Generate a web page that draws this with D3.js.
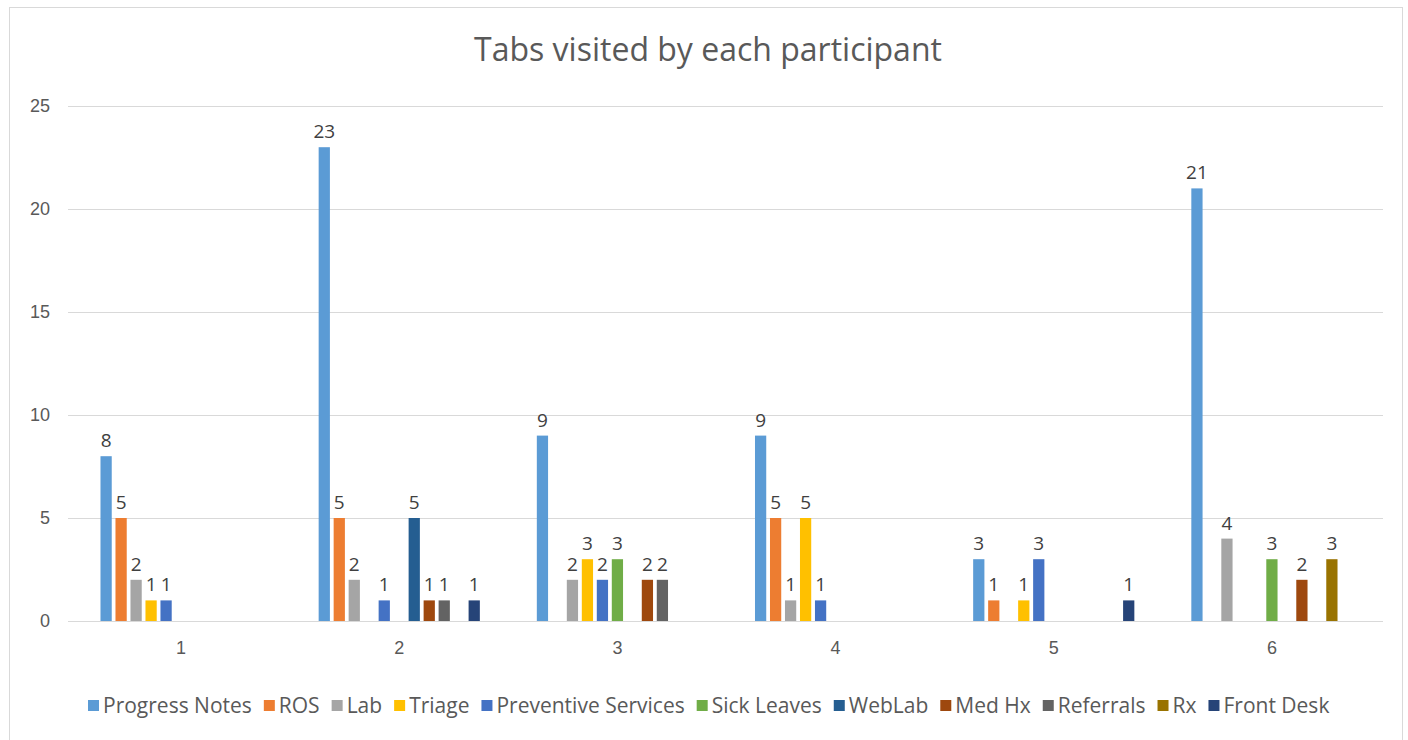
<!DOCTYPE html>
<html lang="en">
<head>
    <meta charset="UTF-8">
    <script src="https://d3js.org/d3.v7.min.js"></script>
    <style>
        body, html {
            width: 100%;
            height: 100%;
            margin: 0;
            overflow: hidden;
            background: #fff;
            font-family: "Open Sans", "Noto Sans", Arial, sans-serif;
        }
        .grid line { stroke: #d9d9d9; stroke-width: 1px; }
        .tick text { fill: #595959; font-size: 18px; }
        .label { font-size: 19px; fill: #404040; text-anchor: middle; }
    </style>
</head>
<body>
    <div id="chart"></div>

    <script>
        const participants = ["1", "2", "3", "4", "5", "6"];
        const tabs = ["Progress Notes", "ROS", "Lab", "Triage", "Preventive Services", "Sick Leaves",
                      "WebLab", "Med Hx", "Referrals", "Rx", "Front Desk"];
        const tabColors = ["#5B9BD5", "#ED7D31", "#A5A5A5", "#FFC000", "#4472C4", "#70AD47",
                           "#255E91", "#9E480E", "#636363", "#997300", "#264478"];
        // visits per tab, one array per participant (null = no visits, no label)
        const visits = [
            [8, 5, 2, 1, 1, null, null, null, null, null, null],
            [23, 5, 2, null, 1, null, 5, 1, 1, null, 1],
            [9, null, 2, 3, 2, 3, null, 2, 2, null, null],
            [9, 5, 1, 5, 1, null, null, null, null, null, null],
            [3, 1, null, 1, 3, null, null, null, null, null, 1],
            [21, null, 4, null, null, 3, null, 2, null, 3, null]
        ];
        const yTicks = [0, 5, 10, 15, 20, 25];

        const W = 1408, H = 740;
        const plot = {left: 68, right: 1383, top: 106, bottom: 621};

        const svg = d3.select("#chart").append("svg")
            .attr("width", W)
            .attr("height", H);

        // chart frame
        svg.append("rect")
            .attr("x", 9.5).attr("y", 7.5)
            .attr("width", 1393).attr("height", 740)
            .attr("fill", "#fff")
            .attr("stroke", "#d9d9d9");

        svg.append("text")
            .attr("x", 708)
            .attr("y", 61)
            .attr("text-anchor", "middle")
            .style("font-size", "32px")
            .style("fill", "#595959")
            .text("Tabs visited by each participant");

        const x0 = d3.scaleBand()
            .domain(participants)
            .range([72, 1381])
            .padding(0);

        const x1 = d3.scaleBand()
            .domain(tabs)
            .range([0, x0.bandwidth()])
            .paddingInner(0.25)
            .paddingOuter(1.9);

        const y = d3.scaleLinear()
            .domain([0, 25])
            .range([plot.bottom, plot.top]);

        // gridlines
        svg.append("g")
            .attr("class", "grid")
            .selectAll("line")
            .data(yTicks)
            .enter()
            .append("line")
            .attr("x1", plot.left)
            .attr("x2", plot.right)
            .attr("y1", d => y(d) + 0.5)
            .attr("y2", d => y(d) + 0.5);

        const yAxis = svg.append("g")
            .attr("transform", `translate(${plot.left - 18},0)`)
            .call(d3.axisLeft(y).tickValues(yTicks).tickSize(0).tickPadding(0));
        yAxis.select(".domain").remove();
        yAxis.selectAll("text").style("font-family", "inherit");

        const xAxis = svg.append("g")
            .attr("transform", `translate(0,${plot.bottom})`)
            .call(d3.axisBottom(x0).tickSize(0).tickPadding(20));
        xAxis.select(".domain").remove();
        xAxis.selectAll("text").style("font-family", "inherit");

        const rows = participants.map((p, i) => ({
            p,
            items: tabs.map((t, j) => ({tab: t, value: visits[i][j], color: tabColors[j]}))
                .filter(d => d.value !== null)
        }));

        const groups = svg.selectAll(".group")
            .data(rows)
            .enter()
            .append("g")
            .attr("class", "group")
            .attr("transform", d => `translate(${x0(d.p)},0)`);

        groups.selectAll("rect")
            .data(d => d.items)
            .enter()
            .append("rect")
            .attr("x", d => x1(d.tab))
            .attr("y", d => y(d.value))
            .attr("width", x1.bandwidth())
            .attr("height", d => y(0) - y(d.value))
            .attr("fill", d => d.color);

        groups.selectAll(".label")
            .data(d => d.items)
            .enter()
            .append("text")
            .attr("class", "label")
            .attr("x", d => x1(d.tab) + x1.bandwidth() / 2)
            .attr("y", d => y(d.value) - 9)
            .text(d => d.value);

        // legend
        const legend = svg.append("g").attr("transform", "translate(0,713)");
        let lx = 88;
        tabs.forEach((t, i) => {
            legend.append("rect")
                .attr("x", lx).attr("y", -13)
                .attr("width", 11).attr("height", 11)
                .attr("fill", tabColors[i]);
            const txt = legend.append("text")
                .attr("x", lx + 15)
                .attr("y", 0)
                .style("font-size", "21px")
                .style("fill", "#595959")
                .text(t);
            lx += 15 + txt.node().getComputedTextLength() + 12;
        });
    </script>
</body>
</html>
